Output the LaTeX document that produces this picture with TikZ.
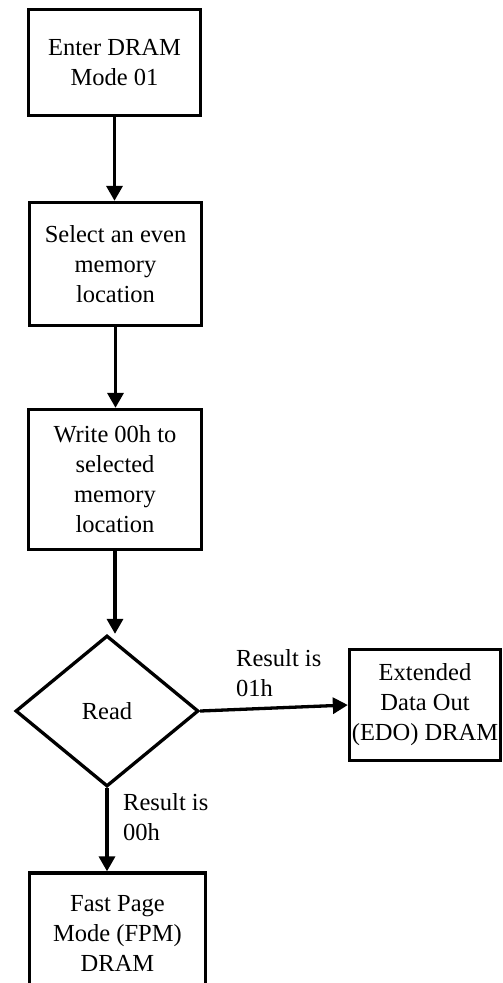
\documentclass[tikz,border=0pt]{standalone}
\usepackage{fontspec}
\setmainfont{Liberation Serif}
\usetikzlibrary{arrows.meta,shapes.geometric}
\begin{document}
\begin{tikzpicture}[x=1pt,y=-1pt,
  box/.style={draw,line width=3.3pt,rectangle,align=center,inner sep=0pt,font=\fontsize{24.5}{30}\selectfont},
  dec/.style={draw,line width=3.3pt,diamond,inner sep=0pt,font=\fontsize{24.5}{30}\selectfont},
  arr/.style={line width=3.3pt,-{Triangle[width=16pt,length=15pt]}},
  lbl/.style={align=left,inner sep=0pt,anchor=west,font=\fontsize{24.5}{30}\selectfont}]
\useasboundingbox (0,0) rectangle (503,983);
\clip (0,0) rectangle (503,983);
\node[box,minimum width=172pt,minimum height=106pt] (b1) at (114.5,62.5) {Enter DRAM\\Mode 01};
\node[box,minimum width=172pt,minimum height=123pt] (b2) at (115.5,264) {Select an even\\memory\\location};
\node[box,minimum width=173pt,minimum height=140pt] (b3) at (115,479.5) {Write 00h to\\selected\\memory\\location};
\node[dec,minimum width=183pt,minimum height=151pt] (d) at (107,711) {Read};
\node[box,minimum width=151pt,minimum height=111pt] (e) at (425,705) {Extended\\Data Out\\(EDO) DRAM};
\node[box,minimum width=176pt,minimum height=120pt] (f) at (117.5,933) {Fast Page\\Mode (FPM)\\DRAM};
\draw[arr] (b1.south) -- (b1.south |- b2.north);
\draw[arr] (b2.south) -- (b2.south |- b3.north);
\draw[arr] (b3.south) -- (b3.south |- d.north);
\draw[arr] (d.east) -- (e.west);
\draw[arr] (d.south) -- (d.south |- f.north);
\node[lbl] (l1) at (236,673) {Result is\\01h};
\node[lbl] (l2) at (123,817) {Result is\\00h};
\end{tikzpicture}
\end{document}
